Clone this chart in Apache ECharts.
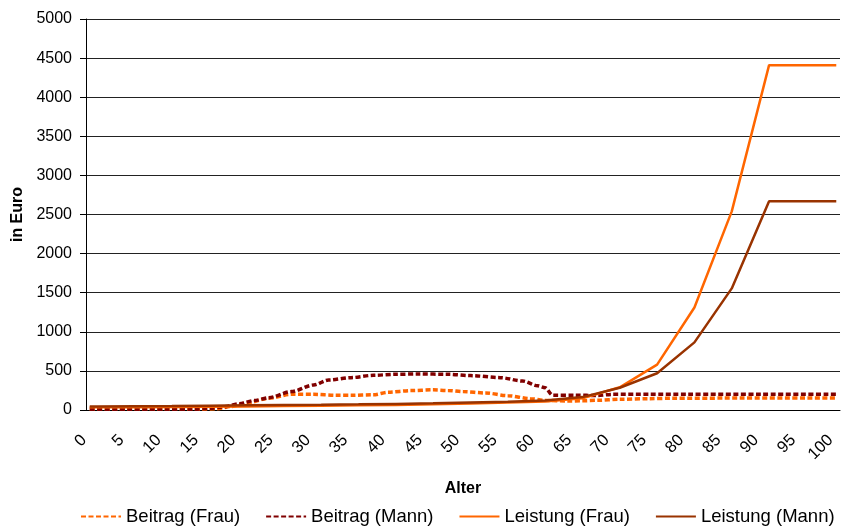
<!DOCTYPE html>
<html>
<head>
<meta charset="utf-8">
<script src="https://cdn.jsdelivr.net/npm/echarts@6/dist/echarts.min.js"></script>
<style>
  html, body { margin: 0; padding: 0; background: #fff; }
  #chart { width: 844px; height: 529px; }
</style>
</head>
<body>
<div id="chart"></div>
<script>
// Alter 0..100 (Kategorien)
var ages = [];
for (var a = 0; a <= 100; a++) ages.push(String(a));

var beitragFrauAge = [0, 5, 10, 15, 17, 19, 21, 24, 27, 30, 33, 35, 38, 40, 43, 46, 48, 50, 53, 56, 59, 61, 64, 66, 68, 71, 75, 78, 85, 100];
var beitragFrau    = [10, 10, 10, 10, 15, 45, 90, 150, 200, 200, 188, 188, 195, 227, 248, 258, 250, 235, 218, 183, 145, 124, 115, 118, 124, 137, 145, 150, 152, 152];

var beitragMannAge = [0, 5, 10, 14, 16, 18, 20, 22, 24, 27, 30, 32, 35, 38, 41, 44, 48, 51, 55, 58, 60, 61, 62, 65, 68, 70, 75, 80, 90, 100];
var beitragMann    = [10, 10, 10, 10, 20, 40, 80, 120, 158, 235, 320, 384, 414, 444, 457, 461, 457, 440, 414, 370, 310, 285, 190, 190, 185, 200, 200, 200, 200, 200];

// Leistung: Stützstellen alle 5 Jahre
var leistungAge  = [0, 1, 6, 11, 16, 21, 26, 31, 36, 41, 46, 51, 56, 61, 66, 71, 76, 81, 86, 91, 96, 100];
var leistungFrau = [35, 35, 35, 38, 40, 45, 50, 55, 60, 65, 72, 82, 95, 110, 150, 290, 580, 1310, 2540, 4410, 4410, 4410];
var leistungMann = [45, 45, 48, 50, 55, 60, 65, 68, 72, 78, 85, 95, 105, 120, 165, 285, 470, 865, 1555, 2670, 2670, 2670];

function pairs(xs, ys) {
  return xs.map(function (x, i) { return [x, ys[i]]; });
}

var myChart = echarts.init(document.getElementById("chart"));
var font = "Liberation Sans, Arial, sans-serif";

var option = {
  animation: false,
  textStyle: { fontFamily: font },
  grid: { left: 86, right: 4, top: 19, bottom: 119, outerBoundsMode: "none" },
  legend: {
    left: 80,
    top: 507,
    width: 790,
    padding: 0,
    itemWidth: 40,
    itemHeight: 20,
    itemGap: 25,
    itemStyle: { opacity: 0 },
    textStyle: { fontSize: 18.5, color: "#000", fontFamily: font },
    data: ["Beitrag (Frau)", "Beitrag (Mann)", "Leistung (Frau)", "Leistung (Mann)"]
  },
  xAxis: {
    type: "category",
    data: ages,
    boundaryGap: true,
    name: "Alter",
    nameLocation: "middle",
    nameGap: 71,
    nameTextStyle: { fontSize: 16, fontWeight: "bold", color: "#000" },
    axisLine: { lineStyle: { color: "#000", width: 1 } },
    axisTick: { interval: 0, length: 6, lineStyle: { color: "#000" } },
    axisLabel: { interval: 4, rotate: 45, margin: 22, padding: [0, 8, 0, 0], fontSize: 16.5, color: "#000" },
    splitLine: { show: false }
  },
  yAxis: {
    type: "value",
    min: 0,
    max: 5000,
    interval: 500,
    name: "in Euro",
    nameLocation: "middle",
    nameGap: 58,
    nameTextStyle: { fontSize: 16, fontWeight: "bold", color: "#000" },
    axisLine: { show: true, lineStyle: { color: "#000", width: 1 } },
    axisTick: { show: true, length: 6, lineStyle: { color: "#000" } },
    axisLabel: {
      margin: 14,
      fontSize: 16,
      color: "#000",
      formatter: function (v) { return String(v); }
    },
    splitLine: { lineStyle: { color: "#222", width: 1 } }
  },
  series: [
    {
      name: "Beitrag (Frau)",
      type: "line",
      symbol: "none",
      smooth: 0.3,
      smoothMonotone: "x",
      color: "#FF6600",
      lineStyle: { width: 3.5, type: [5, 2.5], color: "#FF6600" },
      data: pairs(beitragFrauAge, beitragFrau)
    },
    {
      name: "Beitrag (Mann)",
      type: "line",
      symbol: "none",
      smooth: 0.3,
      smoothMonotone: "x",
      color: "#800000",
      lineStyle: { width: 3.5, type: [5, 2.5], color: "#800000" },
      data: pairs(beitragMannAge, beitragMann)
    },
    {
      name: "Leistung (Frau)",
      type: "line",
      symbol: "none",
      color: "#FF6600",
      lineStyle: { width: 2.5, color: "#FF6600" },
      data: pairs(leistungAge, leistungFrau)
    },
    {
      name: "Leistung (Mann)",
      type: "line",
      symbol: "none",
      color: "#993300",
      lineStyle: { width: 2.5, color: "#993300" },
      data: pairs(leistungAge, leistungMann)
    }
  ]
};

myChart.setOption(option);
</script>
</body>
</html>
